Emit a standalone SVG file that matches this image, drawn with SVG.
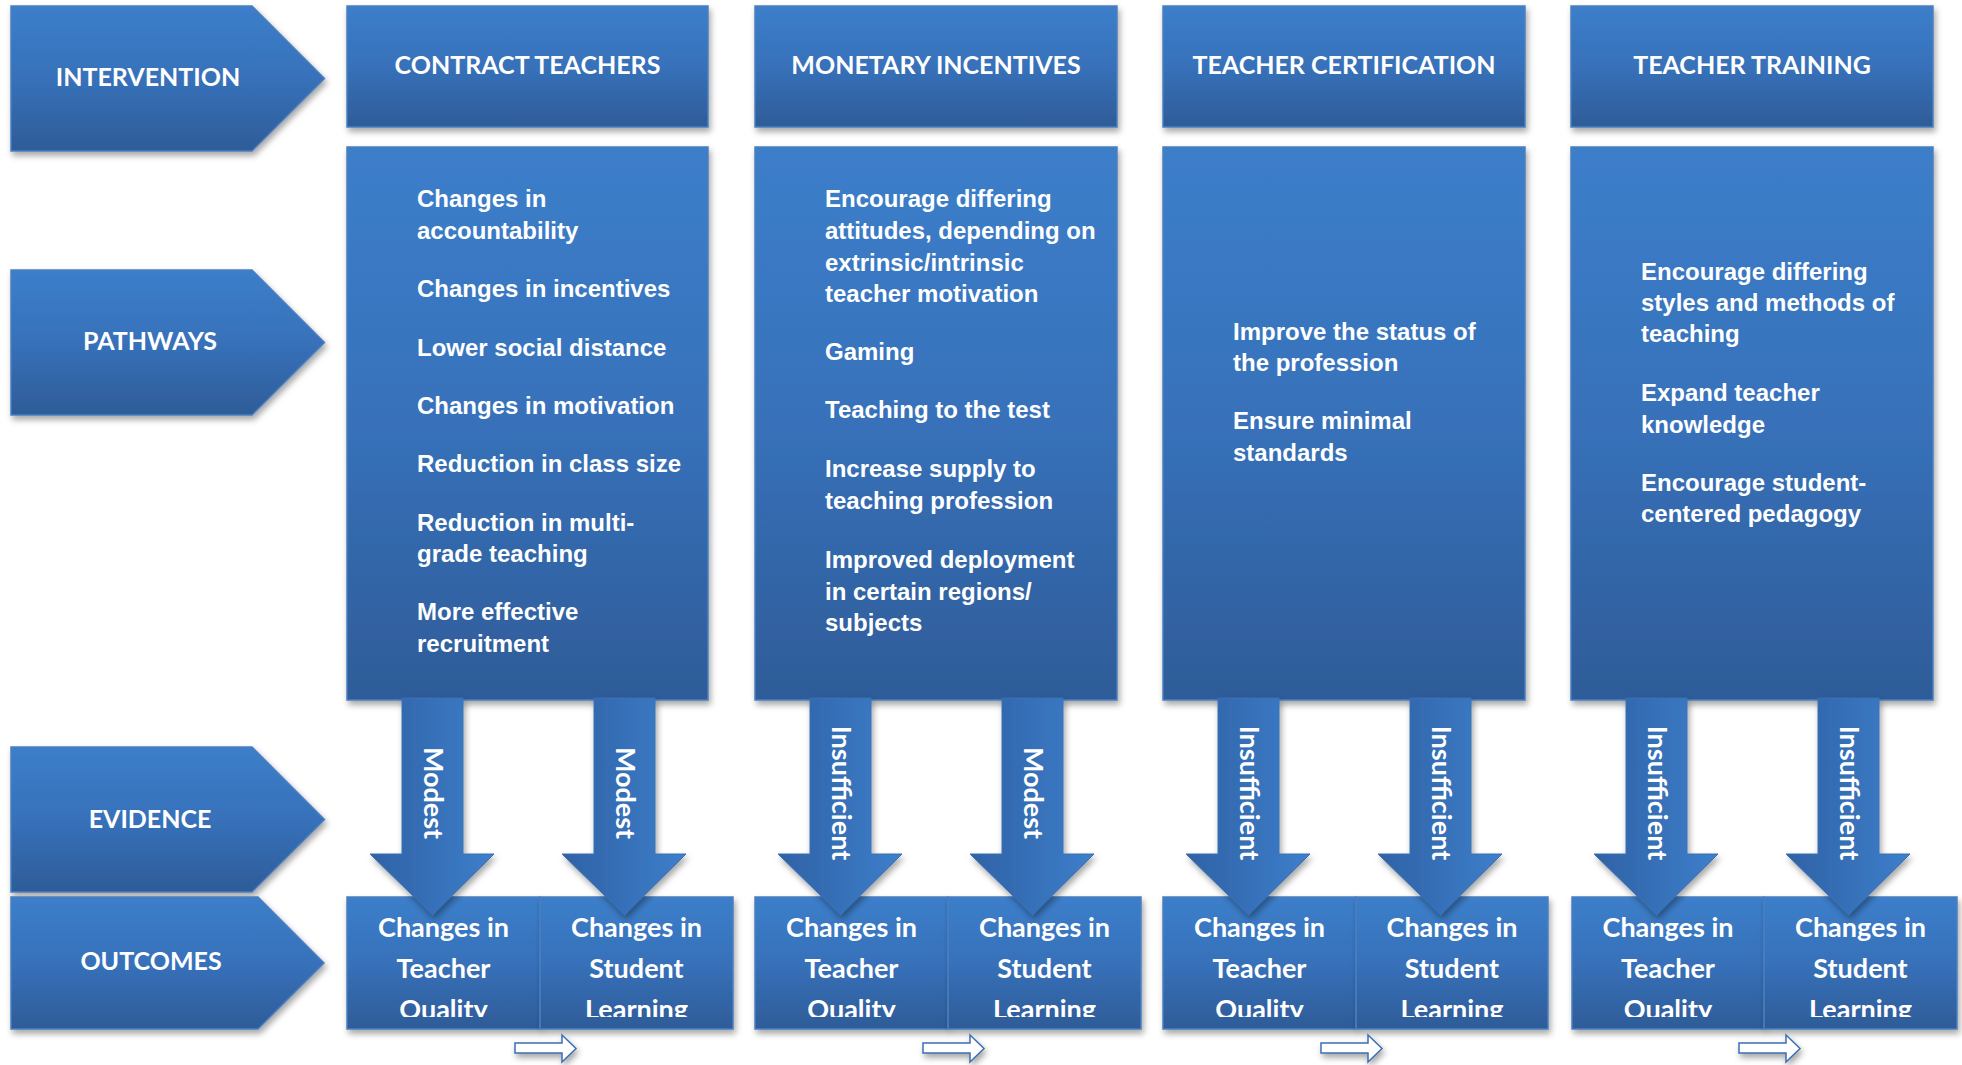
<svg xmlns="http://www.w3.org/2000/svg" width="1962" height="1065" viewBox="0 0 1962 1065">
<defs>
<linearGradient id="gv" x1="0" y1="0" x2="0" y2="1">
<stop offset="0" stop-color="#3C7ECA"/>
<stop offset="0.5" stop-color="#3771BA"/>
<stop offset="1" stop-color="#2E5C98"/>
</linearGradient>
<linearGradient id="gh" x1="0" y1="0" x2="1" y2="0">
<stop offset="0" stop-color="#2F62A5"/>
<stop offset="1" stop-color="#3D7ECB"/>
</linearGradient>
<filter id="sh" x="-15%" y="-15%" width="135%" height="135%">
<feDropShadow dx="2" dy="4" stdDeviation="3" flood-color="#000" flood-opacity="0.35"/>
</filter>
<clipPath id="oc"><rect x="0" y="897" width="1962" height="120"/></clipPath>
<style>
.box{fill:url(#gv);stroke:#4A7FC0;stroke-width:1.5;filter:url(#sh)}
.arr{fill:url(#gh);stroke:#3A70B5;stroke-width:1;filter:url(#sh)}
.sm{fill:#fff;stroke:#3D6FB0;stroke-width:1.5;filter:url(#sh)}
.lbl{font-family:Lato,"Liberation Sans",sans-serif;font-weight:bold;font-size:25px;fill:#fff;text-anchor:middle}
.pt{font-family:"Liberation Sans",Arial,sans-serif;font-weight:bold;font-size:24px;fill:#fff}
.ot{font-family:Lato,"Liberation Sans",sans-serif;font-weight:bold;font-size:27px;fill:#fff;text-anchor:middle}
.ev{font-family:Lato,"Liberation Sans",sans-serif;font-weight:bold;font-size:27px;fill:#fff;text-anchor:middle}
</style>
</defs>
<rect width="1962" height="1065" fill="#fff"/>

<g id="label-intervention"><polygon class="box" points="11,6 252,6 324.5,78.5 252,151 11,151"/><text class="lbl" x="148" y="86">INTERVENTION</text></g>
<g id="label-pathways"><polygon class="box" points="11,270 252,270 324.5,342.5 252,415 11,415"/><text class="lbl" x="150" y="350">PATHWAYS</text></g>
<g id="label-evidence"><polygon class="box" points="11,747 252,747 324.5,819.5 252,892 11,892"/><text class="lbl" x="150" y="828">EVIDENCE</text></g>
<g id="label-outcomes"><polygon class="box" points="11,897 258,897 324,963 258,1029 11,1029"/><text class="lbl" x="151" y="970">OUTCOMES</text></g>

<g id="hdr-contract"><rect class="box" x="347" y="6" width="361" height="121"/><text class="lbl" x="527.5" y="74">CONTRACT TEACHERS</text></g>
<g id="hdr-monetary"><rect class="box" x="755" y="6" width="362" height="121"/><text class="lbl" x="936" y="74">MONETARY INCENTIVES</text></g>
<g id="hdr-certification"><rect class="box" x="1163" y="6" width="362" height="121"/><text class="lbl" x="1344" y="74">TEACHER CERTIFICATION</text></g>
<g id="hdr-training"><rect class="box" x="1571" y="6" width="362" height="121"/><text class="lbl" x="1752" y="74">TEACHER TRAINING</text></g>

<g id="path-contract"><rect class="box" x="347" y="147" width="361" height="553"/>
<text class="pt" x="417" y="207">Changes in</text>
<text class="pt" x="417" y="239">accountability</text>
<text class="pt" x="417" y="297">Changes in incentives</text>
<text class="pt" x="417" y="356">Lower social distance</text>
<text class="pt" x="417" y="414">Changes in motivation</text>
<text class="pt" x="417" y="472">Reduction in class size</text>
<text class="pt" x="417" y="531">Reduction in multi-</text>
<text class="pt" x="417" y="562">grade teaching</text>
<text class="pt" x="417" y="620">More effective</text>
<text class="pt" x="417" y="652">recruitment</text>
</g>
<g id="path-monetary"><rect class="box" x="755" y="147" width="362" height="553"/>
<text class="pt" x="825" y="207">Encourage differing</text>
<text class="pt" x="825" y="239">attitudes, depending on</text>
<text class="pt" x="825" y="271">extrinsic/intrinsic</text>
<text class="pt" x="825" y="302">teacher motivation</text>
<text class="pt" x="825" y="360">Gaming</text>
<text class="pt" x="825" y="418">Teaching to the test</text>
<text class="pt" x="825" y="477">Increase supply to</text>
<text class="pt" x="825" y="509">teaching profession</text>
<text class="pt" x="825" y="568">Improved deployment</text>
<text class="pt" x="825" y="600">in certain regions/</text>
<text class="pt" x="825" y="631">subjects</text>
</g>
<g id="path-certification"><rect class="box" x="1163" y="147" width="362" height="553"/>
<text class="pt" x="1233" y="340">Improve the status of</text>
<text class="pt" x="1233" y="371">the profession</text>
<text class="pt" x="1233" y="429">Ensure minimal</text>
<text class="pt" x="1233" y="461">standards</text>
</g>
<g id="path-training"><rect class="box" x="1571" y="147" width="362" height="553"/>
<text class="pt" x="1641" y="280">Encourage differing</text>
<text class="pt" x="1641" y="311">styles and methods of</text>
<text class="pt" x="1641" y="342">teaching</text>
<text class="pt" x="1641" y="401">Expand teacher</text>
<text class="pt" x="1641" y="433">knowledge</text>
<text class="pt" x="1641" y="491">Encourage student-</text>
<text class="pt" x="1641" y="522">centered pedagogy</text>
</g>

<g id="out-contract-teacher"><rect class="box" x="347" y="897" width="193" height="132"/><g clip-path="url(#oc)"><text class="ot" x="443.5" y="937">Changes in</text><text class="ot" x="443.5" y="978">Teacher</text><text class="ot" x="443.5" y="1019">Quality</text></g></g>
<g id="out-contract-student"><rect class="box" x="540" y="897" width="193" height="132"/><g clip-path="url(#oc)"><text class="ot" x="636.5" y="937">Changes in</text><text class="ot" x="636.5" y="978">Student</text><text class="ot" x="636.5" y="1019">Learning</text></g></g>
<g id="out-monetary-teacher"><rect class="box" x="755" y="897" width="193" height="132"/><g clip-path="url(#oc)"><text class="ot" x="851.5" y="937">Changes in</text><text class="ot" x="851.5" y="978">Teacher</text><text class="ot" x="851.5" y="1019">Quality</text></g></g>
<g id="out-monetary-student"><rect class="box" x="948" y="897" width="193" height="132"/><g clip-path="url(#oc)"><text class="ot" x="1044.5" y="937">Changes in</text><text class="ot" x="1044.5" y="978">Student</text><text class="ot" x="1044.5" y="1019">Learning</text></g></g>
<g id="out-certification-teacher"><rect class="box" x="1163" y="897" width="193" height="132"/><g clip-path="url(#oc)"><text class="ot" x="1259.5" y="937">Changes in</text><text class="ot" x="1259.5" y="978">Teacher</text><text class="ot" x="1259.5" y="1019">Quality</text></g></g>
<g id="out-certification-student"><rect class="box" x="1356" y="897" width="192" height="132"/><g clip-path="url(#oc)"><text class="ot" x="1452" y="937">Changes in</text><text class="ot" x="1452" y="978">Student</text><text class="ot" x="1452" y="1019">Learning</text></g></g>
<g id="out-training-teacher"><rect class="box" x="1572" y="897" width="192" height="132"/><g clip-path="url(#oc)"><text class="ot" x="1668" y="937">Changes in</text><text class="ot" x="1668" y="978">Teacher</text><text class="ot" x="1668" y="1019">Quality</text></g></g>
<g id="out-training-student"><rect class="box" x="1764" y="897" width="193" height="132"/><g clip-path="url(#oc)"><text class="ot" x="1860.5" y="937">Changes in</text><text class="ot" x="1860.5" y="978">Student</text><text class="ot" x="1860.5" y="1019">Learning</text></g></g>

<g id="connectors">
<path class="arr" d="M402,698 H463 V854 H494 L432.5,915 L370,854 H402 Z"/>
<path class="arr" d="M594,698 H655 V854 H686 L624.5,915 L562,854 H594 Z"/>
<path class="arr" d="M810,698 H871 V854 H902 L840.5,915 L778,854 H810 Z"/>
<path class="arr" d="M1002,698 H1063 V854 H1094 L1032.5,915 L970,854 H1002 Z"/>
<path class="arr" d="M1218,698 H1279 V854 H1310 L1248.5,915 L1186,854 H1218 Z"/>
<path class="arr" d="M1410,698 H1471 V854 H1502 L1440.5,915 L1378,854 H1410 Z"/>
<path class="arr" d="M1626,698 H1687 V854 H1718 L1656.5,915 L1594,854 H1626 Z"/>
<path class="arr" d="M1818,698 H1879 V854 H1910 L1848.5,915 L1786,854 H1818 Z"/>
<text class="ev" transform="translate(423.5,793) rotate(90)">Modest</text>
<text class="ev" transform="translate(615.5,793) rotate(90)">Modest</text>
<text class="ev" transform="translate(831.5,793) rotate(90)">Insufficient</text>
<text class="ev" transform="translate(1023.5,793) rotate(90)">Modest</text>
<text class="ev" transform="translate(1239.5,793) rotate(90)">Insufficient</text>
<text class="ev" transform="translate(1431.5,793) rotate(90)">Insufficient</text>
<text class="ev" transform="translate(1647.5,793) rotate(90)">Insufficient</text>
<text class="ev" transform="translate(1839.5,793) rotate(90)">Insufficient</text>
<path class="sm" d="M515,1043 H562 V1035 L576,1048.5 L562,1062 V1053 H515 Z"/>
<path class="sm" d="M923,1043 H970 V1035 L984,1048.5 L970,1062 V1053 H923 Z"/>
<path class="sm" d="M1321,1043 H1368 V1035 L1382,1048.5 L1368,1062 V1053 H1321 Z"/>
<path class="sm" d="M1739,1043 H1786 V1035 L1800,1048.5 L1786,1062 V1053 H1739 Z"/>
</g>
</svg>
